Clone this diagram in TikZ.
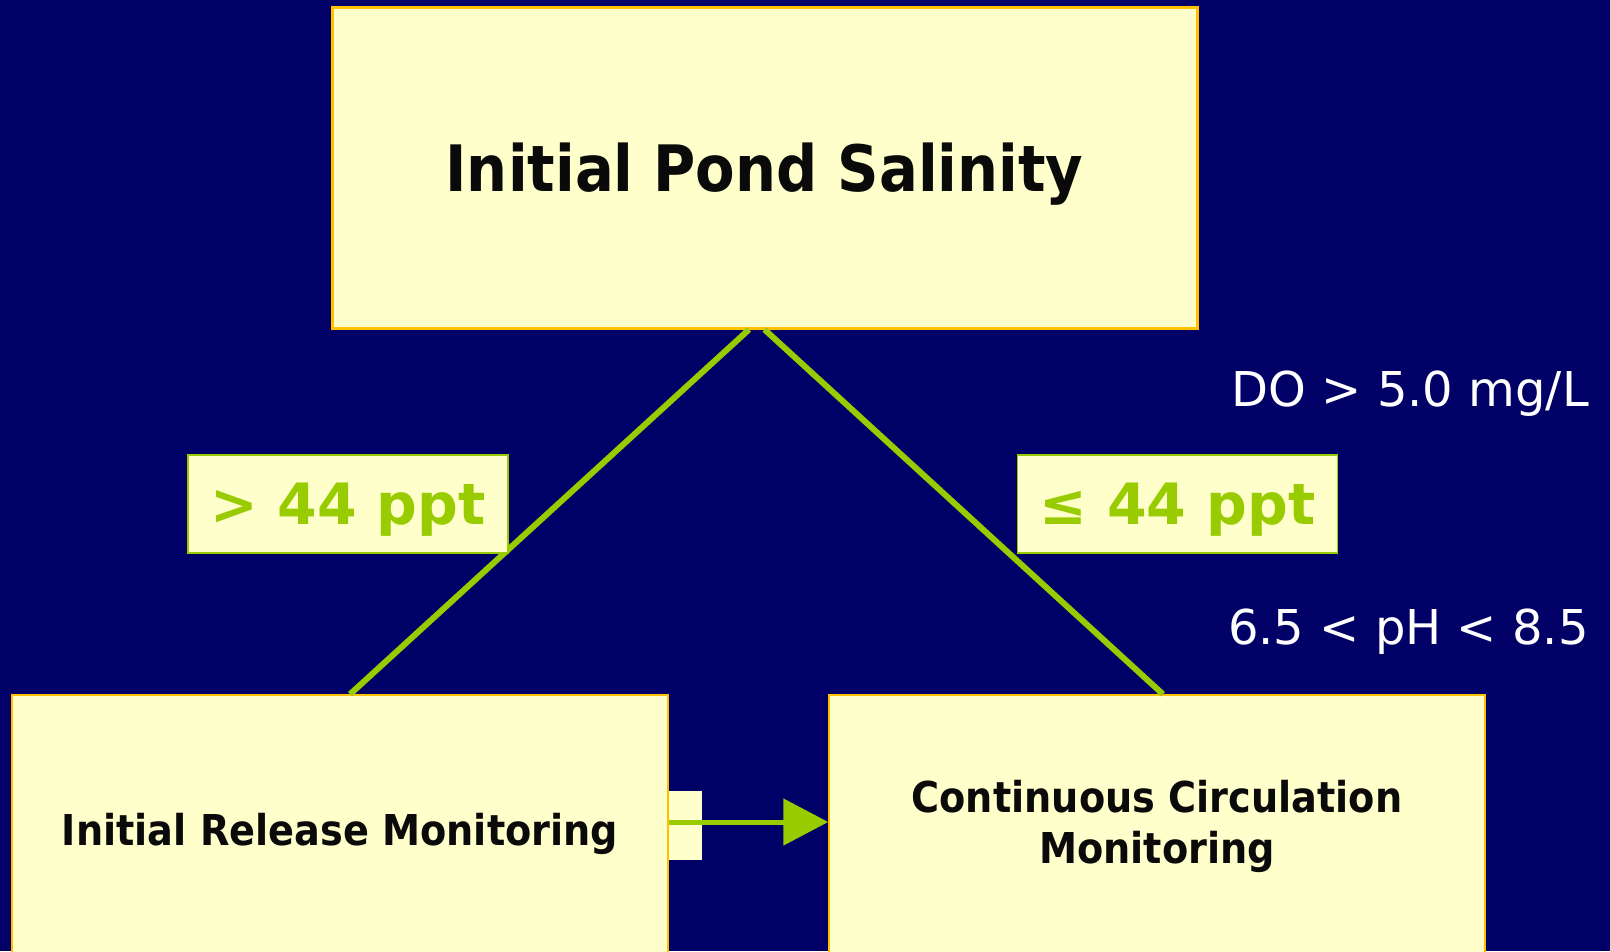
\documentclass[tikz,border=0pt]{standalone}
\usepackage{fontspec}
\setmainfont[FakeStretch=0.9]{DejaVu Sans}
\newfontfamily\plainfont{DejaVu Sans}
\usetikzlibrary{arrows.meta,positioning}
\definecolor{pondnavy}{HTML}{000066}
\definecolor{cream}{HTML}{FFFFCC}
\definecolor{gold}{HTML}{FFC000}
\definecolor{lime}{HTML}{99CC00}
\definecolor{ink}{HTML}{0A0A0A}
\tikzset{
  stage/.style={draw=gold,fill=cream,text=ink,align=center,inner sep=0pt,text depth=0pt},
  branch/.style={lime,line width=6pt},
  flow/.style={lime,line width=5pt,-{Triangle[length=45pt,width=46pt]}},
  cond/.style={draw=lime,line width=1.5pt,fill=cream,text=lime,inner sep=0pt,text depth=0pt,
               font=\plainfont\fontsize{57}{57}\selectfont\bfseries,
               minimum width=320pt,minimum height=98pt},
  % white water-quality limits on the right
  limit/.style={text=white,inner sep=0pt,anchor=east,font=\plainfont\fontsize{48}{48}\selectfont},
}

\begin{document}
\begin{tikzpicture}[x=1pt,y=-1pt]
  \useasboundingbox (0,0) rectangle (1610,951);
  \fill[pondnavy] (0,0) rectangle (1610,951);

  \node[stage,line width=3pt,minimum width=865pt,minimum height=321pt,
        font=\fontsize{64}{64}\selectfont\bfseries] (salinity) at (764.5,167.5) {Initial Pond Salinity};
  \node[stage,line width=1.5pt,minimum width=656pt,minimum height=268pt,
        font=\fontsize{42.5}{51}\selectfont\bfseries] (release) at (340,829) {Initial Release Monitoring};
  \node[stage,line width=1.5pt,minimum width=656pt,minimum height=268pt,text depth=14pt,
        font=\fontsize{42.5}{51}\selectfont\bfseries] (circulation) at (1157,829) {Continuous Circulation\\Monitoring};

  % the two salinity branches, under their labels
  \draw[branch] ([xshift=-15.5pt]salinity.south) -- ([xshift=10pt]release.north);
  \draw[branch] (salinity.south) -- ([xshift=6pt]circulation.north);
  \node[cond] (over) at (348,504) {> 44 ppt};
  \node[cond] (under) at (1177.5,504) {≤ 44 ppt};

  \node[limit] (dolimit) at (1589,394) {DO > 5.0 mg/L};
  \node[limit] (phlimit) at (1589,632) {6.5 < pH < 8.5};

  \node[fill=cream,inner sep=0pt,minimum width=33pt,minimum height=69pt,anchor=west]
    (tab) at ([yshift=3.5pt]release.east) {};
  \draw[flow] ([yshift=7pt]release.east) -- ([yshift=7pt]circulation.west);
\end{tikzpicture}
\end{document}
